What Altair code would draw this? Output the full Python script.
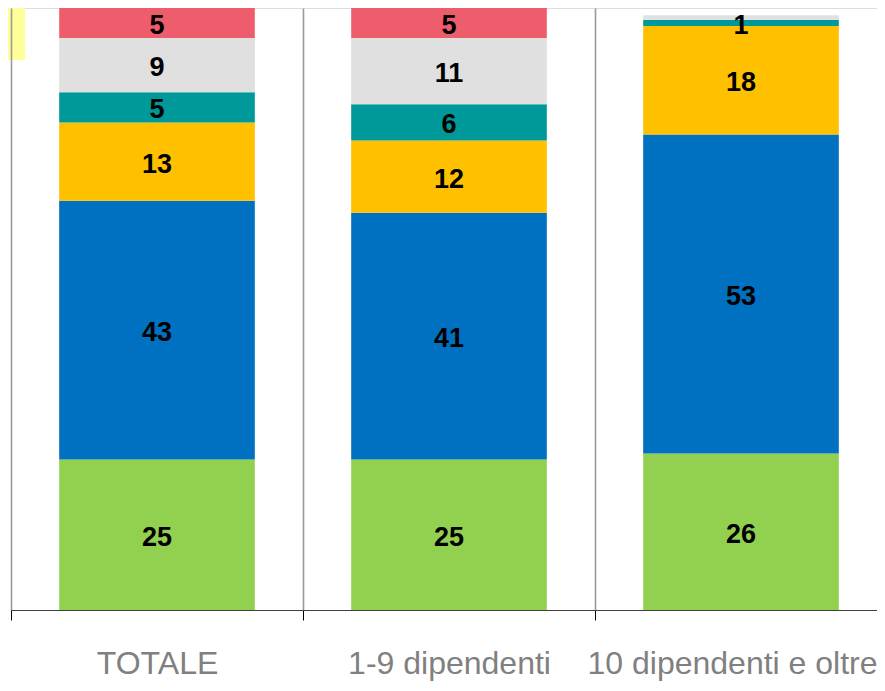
import altair as alt
import pandas as pd

categories = ["TOTALE", "1-9 dipendenti", "10 dipendenti e oltre"]
series = ["S1", "S2", "S3", "S4", "S5", "S6"]  # bottom -> top
colors = ["#92D050", "#0070C0", "#FFC000", "#009999", "#E0E0E0", "#EE5D6C"]

s1 = [25, 25, 26]
s2 = [43, 41, 53]
s3 = [13, 12, 18]
s4 = [5, 6, 1]
s5 = [9, 11, 0.8]
s6 = [5, 5, 0]

values = [s1, s2, s3, s4, s5, s6]

rows = []
for si, (name, vals) in enumerate(zip(series, values)):
    for ci, cat in enumerate(categories):
        v = vals[ci]
        rows.append({
            "cat": cat,
            "serie": name,
            "ord": si,
            "value": v,
            "label": (str(int(round(v))) if v >= 1 else ""),
        })
df = pd.DataFrame(rows)

last = categories[-1]

x_enc = alt.X(
    "cat:N",
    sort=categories,
    title=None,
    scale=alt.Scale(paddingInner=0, paddingOuter=0, range=[0, 876]),
    axis=alt.Axis(
        tickBand="extent",
        grid=True,
        gridColor="#9a9a9a",
        gridWidth=1.6,
        domainColor="#404040",
        domainWidth=1.2,
        tickColor="#000000",
        tickSize=10,
        tickWidth=1,
        labelAngle=0,
        labelFont="Liberation Sans",
        labelFontSize=32,
        labelColor="#808080",
        labelPadding=28,
        labelLimit=1000,
        labelAlign={"condition": {"test": f"datum.value === '{last}'", "value": "right"}, "value": "center"},
        labelOffset={"condition": {"test": f"datum.value === '{last}'", "value": 136}, "value": 0},
        zindex=1,
    ),
)

base = alt.Chart(df).transform_stack(
    stack="value",
    groupby=["cat"],
    as_=["y0", "y1"],
    sort=[alt.SortField("ord", order="ascending")],
).transform_calculate(mid="(datum.y0 + datum.y1) / 2")

bars = base.mark_bar(width=alt.RelativeBandSize(0.67)).encode(
    x=x_enc,
    y=alt.Y("y0:Q", scale=alt.Scale(domain=[0, 100], nice=False, zero=True), axis=None),
    y2="y1:Q",
    color=alt.Color("serie:N", scale=alt.Scale(domain=series, range=colors), legend=None),
)

texts = base.mark_text(
    font="Liberation Sans",
    fontWeight="bold",
    fontSize=27,
    color="#000000",
    baseline="middle",
    align="center",
    dy=3,
).encode(
    x=alt.X("cat:N", sort=categories),
    y=alt.Y("mid:Q"),
    text="label:N",
)

marker = alt.Chart(pd.DataFrame({"k": [0]})).mark_rect(color="#FFFF99").encode(
    x=alt.value(-3), x2=alt.value(14), y=alt.value(0), y2=alt.value(52)
)

chart = alt.layer(bars, texts, marker).properties(
    width=866,
    height=602,
    autosize=alt.AutoSizeParams(type="none"),
    padding={"left": 3, "top": 0, "right": 0, "bottom": 73},
).configure_view(stroke=None).configure(background="white")

chart.save("out.html", embed_options={"renderer": "svg", "actions": False})
